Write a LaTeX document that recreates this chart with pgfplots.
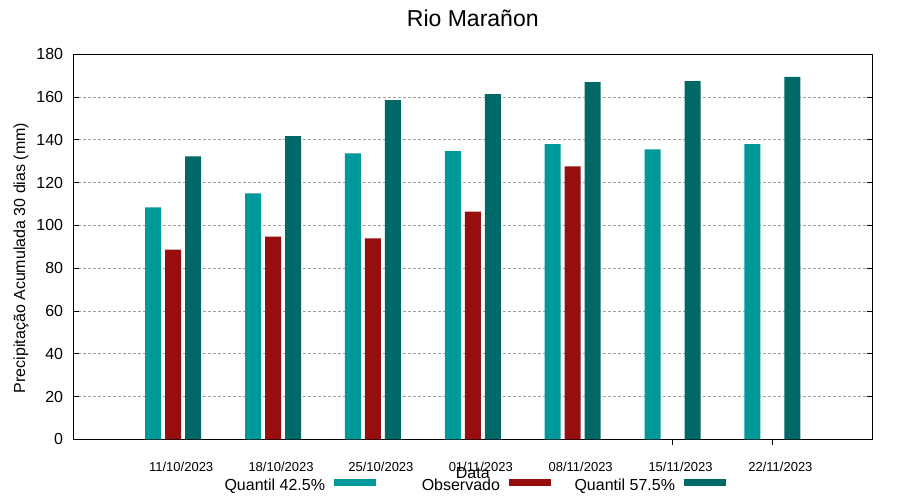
\documentclass[border=0pt]{standalone}
\usepackage{pgfplots}
\pgfplotsset{compat=1.18}
\usepackage{fontspec}
\setmainfont{Liberation Sans}
\definecolor{qlow}{RGB}{0,153,153}
\definecolor{obs}{RGB}{150,14,14}
\definecolor{qhigh}{RGB}{0,104,102}
\definecolor{gridgray}{RGB}{160,160,160}
\begin{document}
\begin{tikzpicture}
\useasboundingbox (-73.3bp,-60.7bp) rectangle (826.7bp,439.3bp);
\begin{axis}[
    scale only axis,
    width=799bp, height=385bp,
    at={(0,0)}, anchor=south west,
    xmin=-1, xmax=7,
    ymin=0, ymax=180,
    ytick={0,20,...,180},
    % ticks 0..4 sit behind the observed bars, so only 5 and 6 show a mark
    xtick={5,6},
    xticklabels={15/11/2023,22/11/2023},
    extra x ticks={0,1,2,3,4},
    extra x tick labels={11/10/2023,18/10/2023,25/10/2023,01/11/2023,08/11/2023},
    extra x tick style={major tick style={draw=none}},
    xtick pos=bottom,
    ytick pos=both,
    tick align=inside,
    major tick length=5.5bp,
    tick style={black, line width=0.8bp},
    axis line style={black, line width=0.8bp},
    ymajorgrids,
    grid style={gridgray, line width=0.8bp, dash pattern=on 3bp off 2bp},
    /pgf/number format/assume math mode=true,
    yticklabel style={font=\fontsize{16bp}{18bp}\selectfont, anchor=east, inner sep=0pt, xshift=-10bp},
    xticklabel style={font=\fontsize{13bp}{15bp}\selectfont, anchor=base, inner sep=0pt, yshift=-26.4bp, xshift=8bp},
    title={Rio Marañon},
    title style={font=\fontsize{23bp}{26bp}\selectfont, at={(axis description cs:0.5,1.0717)}, anchor=base, inner sep=0pt, yshift=-6bp},
    xlabel={Data},
    xlabel style={font=\fontsize{16bp}{18bp}\selectfont, at={(axis description cs:0.5,-0.1031)}, anchor=base, inner sep=0pt},
    ylabel={Precipitação Acumulada 30 dias (mm)},
    ylabel style={font=\fontsize{16bp}{18bp}\selectfont, at={(axis description cs:-0.0655,0.471)}, anchor=center, inner sep=0pt},
    ybar,
    bar width=0.16,
    legend columns=3,
    legend plot pos=right,
    legend image code/.code={\fill[#1,draw=none] (9bp,0bp) rectangle (51bp,7bp); \path (0bp,0bp) (75bp,0bp);},
    legend style={draw=none, fill=none, inner sep=0pt, outer sep=0pt, column sep=0pt,
        nodes={inner sep=0pt},
        font=\fontsize{16bp}{18bp}\selectfont,
        at={(rel axis cs:0.1899,-0.1205)}, anchor=west},
]
% Quantil 42.5%
\addplot[fill=qlow, draw=none, bar shift=-0.2] coordinates {
    (0,108.4) (1,115.0) (2,133.7) (3,134.7) (4,138.0) (5,135.5) (6,138.0)
};
\addlegendentry{\makebox[100bp][r]{Quantil 42.5\%}}
% Observado
\addplot[fill=obs, draw=none, bar shift=0] coordinates {
    (0,88.7) (1,94.8) (2,93.9) (3,106.5) (4,127.6)
};
\addlegendentry{\makebox[100bp][r]{Observado}}
% Quantil 57.5%
\addplot[fill=qhigh, draw=none, bar shift=0.2] coordinates {
    (0,132.3) (1,141.7) (2,158.6) (3,161.4) (4,167.0) (5,167.5) (6,169.4)
};
\addlegendentry{\makebox[100bp][r]{Quantil 57.5\%}}
\end{axis}
\end{tikzpicture}
\end{document}
